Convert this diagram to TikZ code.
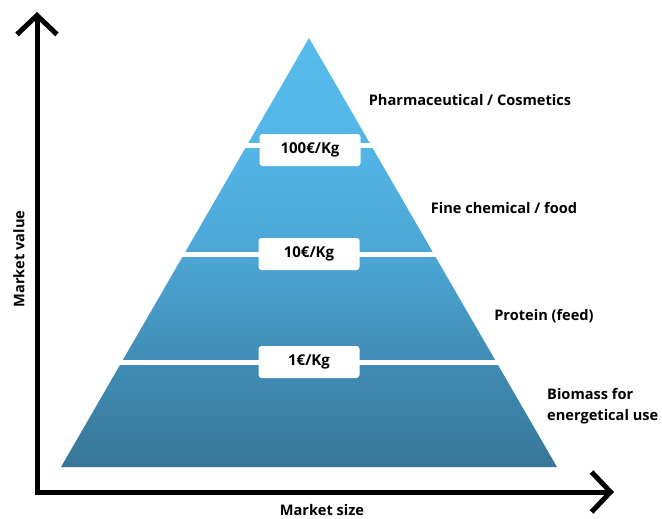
\documentclass[tikz,border=0pt]{standalone}
\usepackage{fontspec}
\setmainfont{Open Sans}
\usetikzlibrary{arrows.meta}
\definecolor{pyrtop}{RGB}{86,188,236}
\definecolor{pyrhigh}{RGB}{82,181,230}
\definecolor{pyrmid}{RGB}{76,166,213}
\definecolor{pyrlow}{RGB}{64,140,180}
\definecolor{pyrbot}{RGB}{56,118,152}
\pgfdeclareverticalshading{pyramid}{100bp}{color(0bp)=(pyrbot); color(25bp)=(pyrbot);
  color(37bp)=(pyrlow); color(50bp)=(pyrmid); color(62bp)=(pyrhigh);
  color(75bp)=(pyrtop); color(100bp)=(pyrtop)}
\begin{document}
\begin{tikzpicture}[x=1pt, y=-1pt,
    >={Straight Barb[length=19pt, width=40pt, line width=5pt]},
    price/.style={fill=white, rounded corners=3pt, minimum width=101pt, minimum height=32pt,
      inner sep=0pt, font=\bfseries\fontsize{15}{17}\selectfont},
    tier/.style={font=\bfseries\fontsize{14.6}{21}\selectfont, inner sep=0pt}]
  \useasboundingbox (0, 0) rectangle (662, 519);

  % pyramid
  \shade[shading=pyramid] (61, 467) -- (309, 38) -- (557, 467) -- cycle;
  \draw[white, line width=5pt] (245, 145) -- (373, 145);
  \draw[white, line width=5pt] (182, 254) -- (436, 254);
  \draw[white, line width=5pt] (120, 362) -- (498, 362);

  \node[price] (p100) at (310, 150) {100€/Kg};
  \node[price] (p10) at (309, 254) {10€/Kg};
  \node[price] (p1) at (309, 362) {1€/Kg};

  % axes
  \coordinate (top) at (37, 12);
  \coordinate (origin) at (37, 492);
  \coordinate (right) at (614, 492);
  \draw[<->, line width=5pt] (top) -- (origin) -- (right);
  \node[tier, rotate=90] (value) at (19, 259) {Market value};
  \node[tier] (size) at (322, 510) {Market size};

  \node[tier] (pharma) at (470, 100) {Pharmaceutical / Cosmetics};
  \node[tier] (fine) at (504, 208) {Fine chemical / food};
  \node[tier] (protein) at (544, 316) {Protein (feed)};
  \node[tier, anchor=west, align=left] (biomass) at (547, 406) {Biomass for\\energetical use};
\end{tikzpicture}
\end{document}
